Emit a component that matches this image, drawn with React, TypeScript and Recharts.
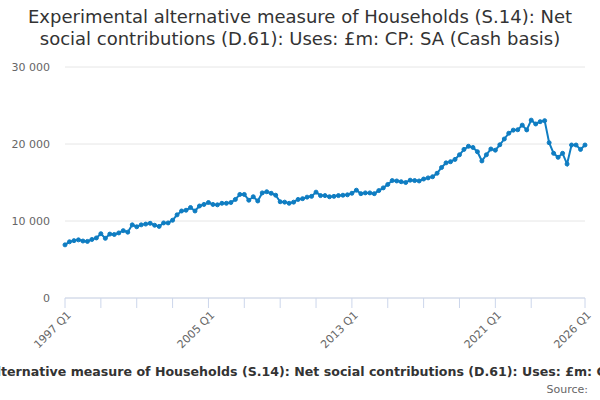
import React from 'react';
import { LineChart, Line, XAxis, YAxis, CartesianGrid } from 'recharts';

const START_YEAR = 1997;
const values: number[] = [
  6900, 7300, 7450, 7550, 7400, 7350, 7600, 7800, 8350, 7750,
  8300, 8250, 8450, 8750, 8550, 9500, 9250, 9500, 9600, 9700,
  9450, 9300, 9750, 9750, 10100, 10800, 11300, 11400, 11750, 11300,
  11950, 12150, 12400, 12150, 12100, 12300, 12300, 12400, 12800, 13450,
  13450, 12700, 13150, 12600, 13650, 13800, 13600, 13350, 12500, 12450,
  12300, 12450, 12800, 12900, 13100, 13200, 13750, 13300, 13300, 13150,
  13200, 13300, 13350, 13400, 13600, 14000, 13550, 13650, 13650, 13550,
  13950, 14300, 14750, 15250, 15200, 15100, 15000, 15300, 15250, 15200,
  15450, 15600, 15750, 16200, 16950, 17550, 17700, 18000, 18600, 19300,
  19700, 19550, 19000, 17800, 18600, 19350, 19200, 19900, 20650, 21400,
  21800, 21850, 22450, 21830, 23100, 22600, 22900, 23030, 20170, 18790,
  18270, 18790, 17400, 19870, 19870, 19300, 19870,
];

const quarters: string[] = values.map(
  (_, i) => `${START_YEAR + Math.floor(i / 4)} Q${(i % 4) + 1}`
);

const tickQuarters: string[] = [
  '1997 Q1', '1999 Q1', '2001 Q1', '2003 Q1', '2005 Q1', '2007 Q1', '2009 Q1',
  '2011 Q1', '2013 Q1', '2015 Q1', '2017 Q1', '2019 Q1', '2021 Q1', '2023 Q1',
  '2026 Q1',
];
const labelQuarters: string[] = ['1997 Q1', '2005 Q1', '2013 Q1', '2021 Q1', '2026 Q1'];
const yTicks: number[] = [0, 10000, 20000, 30000];

const data = quarters.map((q, i) => ({ q, v: values[i] }));

const TITLE =
  'Experimental alternative measure of Households (S.14): Net social contributions (D.61): Uses: £m: CP: SA (Cash basis)';

const FONT = '"DejaVu Sans", sans-serif';

const XTick = (props: any) => {
  const { x, y, payload } = props;
  if (!labelQuarters.includes(payload.value)) return <g />;
  return (
    <g transform={`translate(${x + 4},${y + 3})`}>
      <text
        x={0}
        y={0}
        dy="0.35em"
        textAnchor="end"
        fill="#666666"
        fontSize={11}
        fontFamily={FONT}
        transform="rotate(-45)"
      >
        {payload.value}
      </text>
    </g>
  );
};

const fmt = (v: number) => {
  const s = String(v);
  return s.length > 3 ? s.slice(0, s.length - 3) + '\u00a0' + s.slice(-3) : s;
};

export default function App() {
  return (
    <div
      style={{
        position: 'absolute',
        left: 0,
        top: 0,
        width: 600,
        height: 400,
        overflow: 'hidden',
        background: '#ffffff',
        fontFamily: FONT,
      }}
    >
      <div
        style={{
          position: 'absolute',
          left: 0,
          top: 6,
          width: 600,
          textAlign: 'center',
          fontSize: 18,
          lineHeight: '22px',
          color: '#333333',
        }}
      >
        Experimental alternative measure of Households (S.14): Net
        <br />
        social contributions (D.61): Uses: £m: CP: SA (Cash basis)
      </div>
      <LineChart
        width={600}
        height={400}
        data={data}
        margin={{ top: 67, right: 15, bottom: 42, left: 5 }}
      >
        <CartesianGrid vertical={false} stroke="#e6e6e6" />
        <XAxis
          dataKey="q"
          ticks={tickQuarters}
          interval={0}
          tick={<XTick />}
          tickSize={10}
          tickMargin={2}
          height={60}
          axisLine={{ stroke: '#ccd6eb' }}
          tickLine={{ stroke: '#ccd6eb' }}
        />
        <YAxis
          domain={[0, 30000]}
          ticks={yTicks}
          width={60}
          axisLine={false}
          tickLine={false}
          tickMargin={9}
          tickFormatter={fmt}
          tick={{ fill: '#666666', fontSize: 11, fontFamily: FONT }}
        />
        <Line
          type="linear"
          dataKey="v"
          stroke="#0f7dc2"
          strokeWidth={2}
          dot={{ r: 2, fill: '#0f7dc2', stroke: '#0f7dc2', strokeWidth: 1 }}
          isAnimationActive={false}
        />
      </LineChart>
      <div
        style={{
          position: 'absolute',
          left: 312,
          top: 364,
          transform: 'translateX(-50%)',
          whiteSpace: 'nowrap',
          fontSize: 12.6,
          fontWeight: 'bold',
          color: '#333333',
          lineHeight: '16px',
        }}
      >
        {TITLE}
      </div>
      <div
        style={{
          position: 'absolute',
          right: 12,
          top: 383,
          fontSize: 11,
          color: '#666666',
          lineHeight: '14px',
        }}
      >
        Source:
      </div>
    </div>
  );
}
